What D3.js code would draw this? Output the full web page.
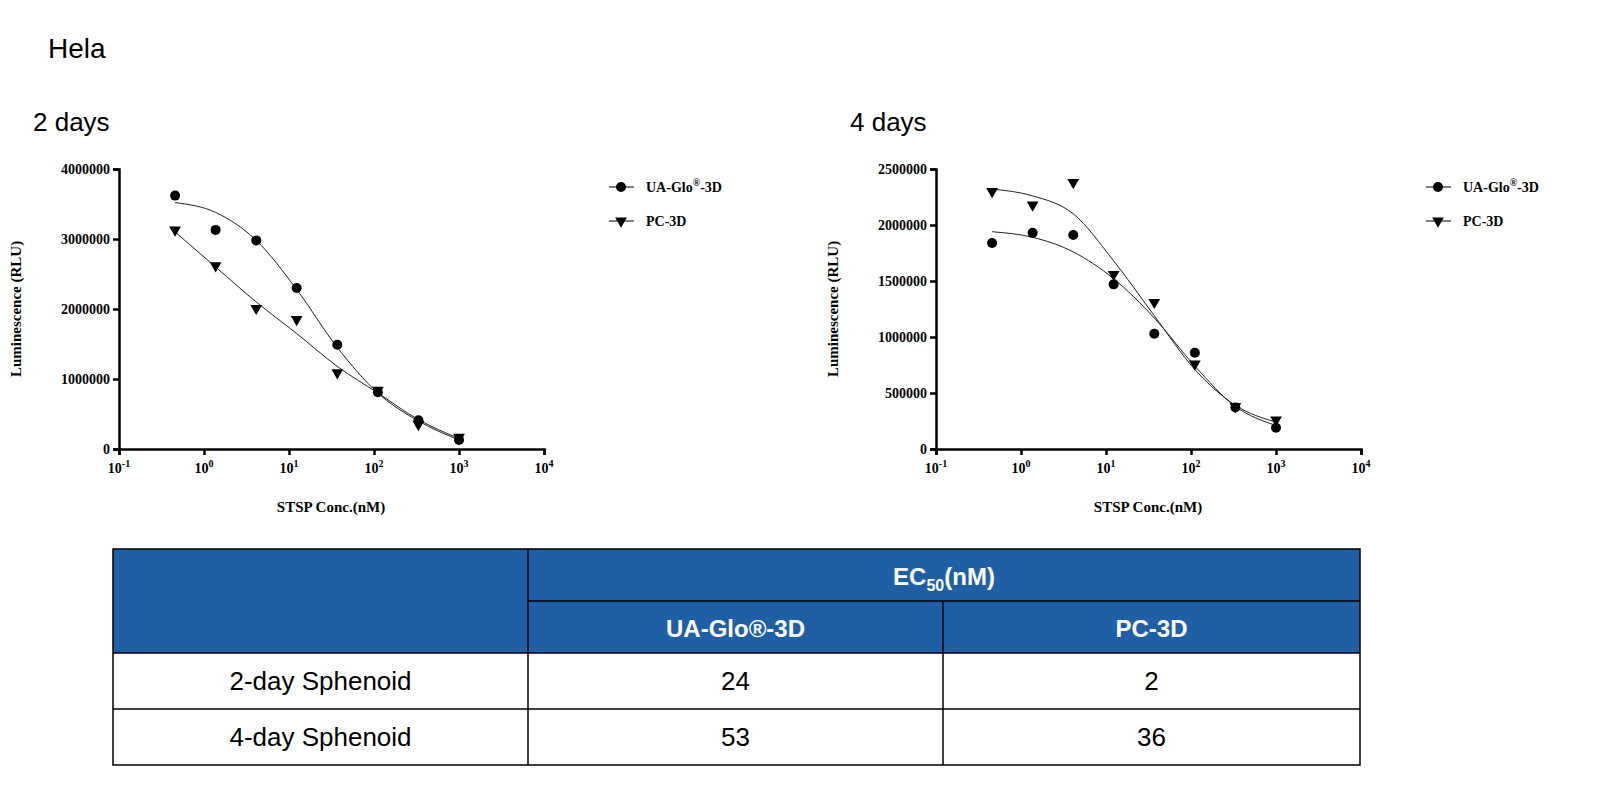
<!DOCTYPE html>
<html><head><meta charset="utf-8">
<script src="https://cdn.jsdelivr.net/npm/d3@7"></script>
<style>body{margin:0;background:#fff}</style>
</head><body>
<svg id="c" width="1611" height="799"></svg>
<script>
const conc = [0.457, 1.37, 4.12, 12.3, 37, 111, 333, 1000];
const uaDay2 = [3620000, 3130000, 2980000, 2300000, 1490000, 810000, 410000, 130000];
const pcDay2 = [3130000, 2620000, 2010000, 1850000, 1090000, 840000, 350000, 170000];
const uaFit2 = [3520000, 3380000, 2980000, 2280000, 1450000, 800000, 400000, 130000];
const pcFit2 = [3100000, 2600000, 2100000, 1650000, 1180000, 800000, 420000, 150000];
const uaDay4 = [1840000, 1930000, 1910000, 1470000, 1030000, 860000, 370000, 190000];
const pcDay4 = [2300000, 2180000, 2380000, 1560000, 1310000, 760000, 380000, 260000];
const uaFit4 = [1940000, 1890000, 1760000, 1520000, 1170000, 740000, 380000, 210000];
const pcFit4 = [2320000, 2260000, 2100000, 1680000, 1190000, 710000, 390000, 240000];
const rowNames = ["2-day Sphenoid", "4-day Sphenoid"];
const ec50UA = [24, 53];
const ec50PC = [2, 36];

const svg = d3.select("#c");
const serif = "'Liberation Serif','Times New Roman',serif";
const sans = "'Liberation Sans',Arial,sans-serif";

svg.append("text").attr("x", 48).attr("y", 58).attr("font-family", sans).attr("font-size", 28).text("Hela");

function chart(x0, title, yMax, yStep, ua, pc, uaFit, pcFit) {
  const g = svg.append("g");
  g.append("text").attr("x", x0 - 86).attr("y", 131).attr("font-family", sans).attr("font-size", 26).text(title);
  const x = d3.scaleLog().domain([0.1, 10000]).range([x0, x0 + 425]);
  const y = d3.scaleLinear().domain([0, yMax]).range([449, 169]);
  const xa = g.append("g").attr("transform", "translate(0,449)")
    .call(d3.axisBottom(x).tickValues([0.1, 1, 10, 100, 1000, 10000]).tickSize(6).tickFormat(() => ""));
  xa.selectAll("text").remove();
  [-1, 0, 1, 2, 3, 4].forEach(e => {
    const t = g.append("text").attr("x", x(Math.pow(10, e))).attr("y", 473).attr("text-anchor", "middle")
      .attr("font-family", serif).attr("font-weight", "bold").attr("font-size", 14);
    t.append("tspan").text("10");
    t.append("tspan").attr("dy", -6).attr("font-size", 10).text(e);
  });
  const ya = g.append("g").attr("transform", `translate(${x0},0)`)
    .call(d3.axisLeft(y).tickValues(d3.range(0, yMax + 1, yStep)).tickSize(6).tickFormat(d3.format("d")));
  g.selectAll(".domain, .tick line").attr("stroke", "#000").attr("stroke-width", 2.5);
  ya.selectAll("text").attr("font-family", serif).attr("font-weight", "bold").attr("font-size", 14).attr("fill", "#000");
  g.append("text").attr("transform", `translate(${x0 - 98},${309}) rotate(-90)`).attr("text-anchor", "middle")
    .attr("font-family", serif).attr("font-weight", "bold").attr("font-size", 15).text("Luminescence (RLU)");
  g.append("text").attr("x", x0 + 212).attr("y", 512).attr("text-anchor", "middle")
    .attr("font-family", serif).attr("font-weight", "bold").attr("font-size", 15).text("STSP Conc.(nM)");
  const line = d3.line().x(d => x(d[0])).y(d => y(d[1])).curve(d3.curveMonotoneX);
  [uaFit, pcFit].forEach(f => g.append("path").attr("d", line(d3.zip(conc, f))).attr("fill", "none").attr("stroke", "#222").attr("stroke-width", 1));
  const tri = d3.symbol().type(d3.symbolTriangle).size(60);
  g.selectAll(".ua").data(d3.zip(conc, ua)).join("circle").attr("cx", d => x(d[0])).attr("cy", d => y(d[1])).attr("r", 5);
  g.selectAll(".pc").data(d3.zip(conc, pc)).join("path").attr("d", tri)
    .attr("transform", d => `translate(${x(d[0])},${y(d[1])}) rotate(180)`);
  const lx = x0 + 490;
  [[187, "ua"], [221, "pc"]].forEach(([ly, k]) => {
    g.append("line").attr("x1", lx).attr("x2", lx + 25).attr("y1", ly).attr("y2", ly).attr("stroke", "#000");
    if (k === "ua") g.append("circle").attr("cx", lx + 12).attr("cy", ly).attr("r", 5);
    else g.append("path").attr("d", tri).attr("transform", `translate(${lx + 12},${ly}) rotate(180)`);
    const t = g.append("text").attr("x", lx + 37).attr("y", ly + 5).attr("font-family", serif).attr("font-weight", "bold").attr("font-size", 14);
    if (k === "ua") { t.append("tspan").text("UA-Glo"); t.append("tspan").attr("dy", -6).attr("font-size", 10).text("®"); t.append("tspan").attr("dy", 6).text("-3D"); }
    else t.text("PC-3D");
  });
}
chart(119, "2 days", 4000000, 1000000, uaDay2, pcDay2, uaFit2, pcFit2);
chart(936, "4 days", 2500000, 500000, uaDay4, pcDay4, uaFit4, pcFit4);

// table
const blue = "#1f5fa6";
const cols = [113, 528, 943, 1360];
const rows = [549, 601, 653, 709, 765];
const tb = svg.append("g");
tb.append("rect").attr("x", cols[0]).attr("y", rows[0]).attr("width", cols[3] - cols[0]).attr("height", rows[2] - rows[0]).attr("fill", blue);
tb.append("rect").attr("x", cols[0]).attr("y", rows[0]).attr("width", cols[3] - cols[0]).attr("height", rows[4] - rows[0]).attr("fill", "none").attr("stroke", "#000").attr("stroke-width", 1.5);
[[cols[1], rows[0], cols[1], rows[4]], [cols[2], rows[1], cols[2], rows[4]], [cols[1], rows[1], cols[3], rows[1]],
 [cols[0], rows[2], cols[3], rows[2]], [cols[0], rows[3], cols[3], rows[3]]].forEach(l =>
  tb.append("line").attr("x1", l[0]).attr("y1", l[1]).attr("x2", l[2]).attr("y2", l[3]).attr("stroke", "#000").attr("stroke-width", 1.5));
const h = tb.append("text").attr("x", (cols[1] + cols[3]) / 2).attr("y", 585).attr("text-anchor", "middle").attr("fill", "#fff")
  .attr("font-family", sans).attr("font-weight", "bold").attr("font-size", 24);
h.append("tspan").text("EC"); h.append("tspan").attr("dy", 6).attr("font-size", 16).text("50"); h.append("tspan").attr("dy", -6).text("(nM)");
[["UA-Glo®-3D", 0], ["PC-3D", 1]].forEach(([s, i]) =>
  tb.append("text").attr("x", (cols[1 + i] + cols[2 + i]) / 2).attr("y", 637).attr("text-anchor", "middle").attr("fill", "#fff")
    .attr("font-family", sans).attr("font-weight", "bold").attr("font-size", 24).text(s));
rowNames.forEach((r, i) => {
  const yy = (rows[2 + i] + rows[3 + i]) / 2 + 9;
  [r, ec50UA[i], ec50PC[i]].forEach((v, j) =>
    tb.append("text").attr("x", (cols[j] + cols[j + 1]) / 2).attr("y", yy).attr("text-anchor", "middle")
      .attr("font-family", sans).attr("font-size", 26).text(v));
});
</script>
</body></html>
